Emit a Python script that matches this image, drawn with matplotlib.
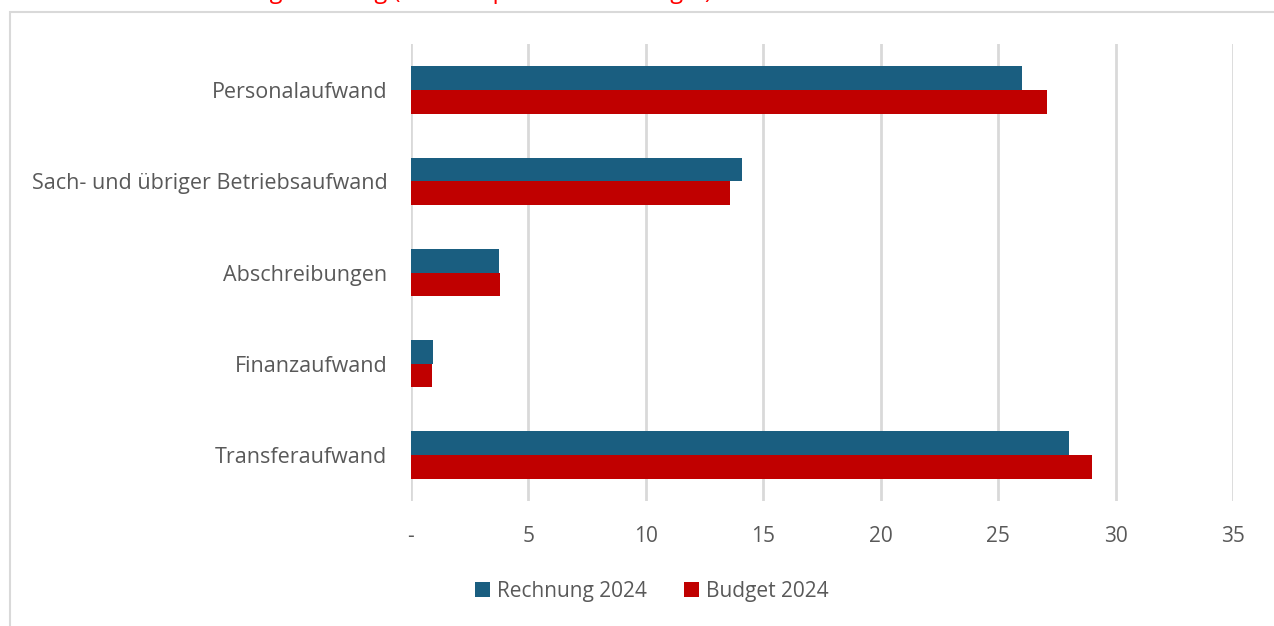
import matplotlib
matplotlib.use("Agg")
import matplotlib.pyplot as plt
from matplotlib.patches import Rectangle
import numpy as np

categories = ["Personalaufwand", "Sach- und übriger Betriebsaufwand", "Abschreibungen",
              "Finanzaufwand", "Transferaufwand"]
rechnung_2024 = [26.0, 14.1, 3.75, 0.95, 28.0]
budget_2024 = [27.1, 13.6, 3.8, 0.9, 29.0]
series_labels = ["Rechnung 2024", "Budget 2024"]
x_ticks = [0, 5, 10, 15, 20, 25, 30, 35]
x_ticklabels = ["-", "5", "10", "15", "20", "25", "30", "35"]
title_text = "Aufwandgliederung (Ist 2024 pro Art und Budget)"

BLUE = "#1A5E80"
RED = "#C00000"
GRAY = "#595959"
GRID = "#D9D9D9"
FONT = ["Open Sans", "DejaVu Sans"]

plt.rcParams["font.family"] = FONT

W, H = 1274, 626
fig = plt.figure(figsize=(W / 100, H / 100), dpi=100)

# outer chart border
fig.patches.append(Rectangle((10 / W, -0.1), 1.2, (H - 12) / H + 0.1,
                             transform=fig.transFigure, fill=False,
                             edgecolor="#D9D9D9", linewidth=1.5))

# red title, mostly cut off by the top edge (as in the reference)
fig.text(172 / W, 1 + 1.5 / H, title_text, color="#FF0000", fontsize=17,
         va="baseline", ha="left")

ax = fig.add_axes([411 / W, 1 - 500.6 / H, 822 / W, 456.2 / H])
y = np.arange(len(categories))
h = 0.26
ax.barh(y - h / 2, rechnung_2024, height=h, color=BLUE, label=series_labels[0], zorder=3)
ax.barh(y + h / 2, budget_2024, height=h, color=RED, label=series_labels[1], zorder=3)

ax.set_ylim(len(categories) - 0.5, -0.5)
ax.set_xlim(0, 35)
ax.set_yticks(y)
ax.set_yticklabels(categories, fontsize=15.5, color=GRAY)
ax.set_xticks(x_ticks)
ax.set_xticklabels(x_ticklabels, fontsize=15, color=GRAY)
ax.tick_params(axis="both", length=0)
ax.tick_params(axis="y", pad=17)
ax.tick_params(axis="x", pad=18)
ax.xaxis.grid(True, color=GRID, linewidth=2, zorder=0)
for s in ax.spines.values():
    s.set_visible(False)

leg = fig.legend(loc="center", bbox_to_anchor=(652 / W, 1 - 591 / H), ncol=2,
                 frameon=False, fontsize=15, handlelength=0.7, handleheight=0.7,
                 handletextpad=0.35, columnspacing=1.8)
for t in leg.get_texts():
    t.set_color(GRAY)

fig.savefig("out.png", dpi=100, facecolor="white")
